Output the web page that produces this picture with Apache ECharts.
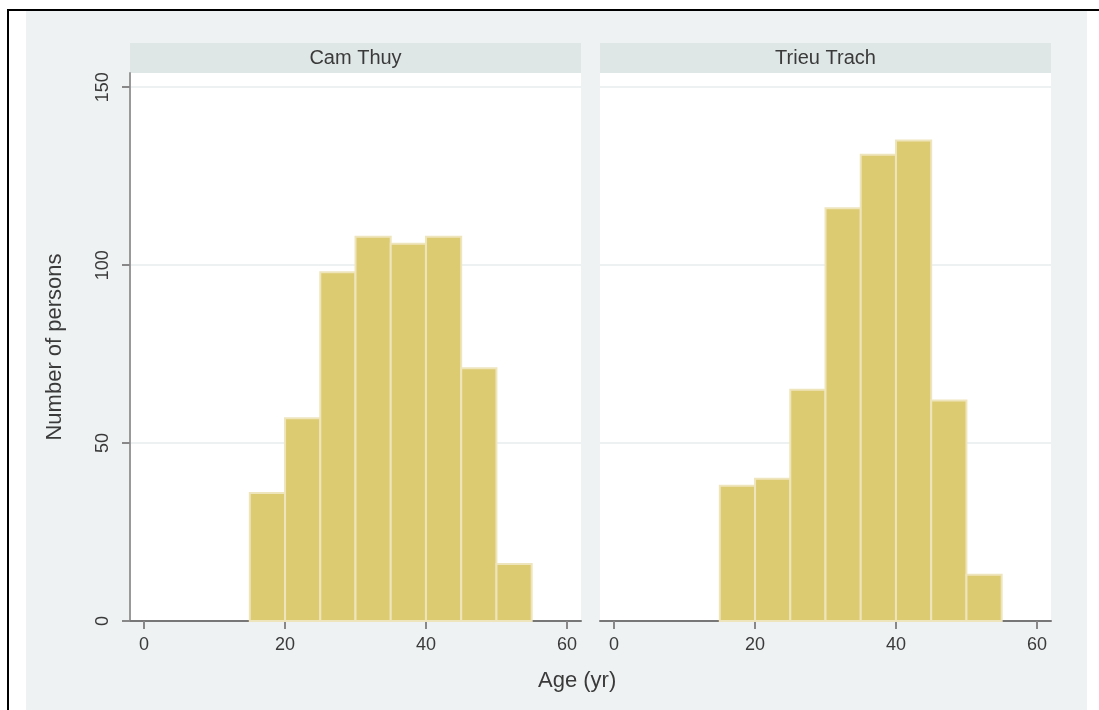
<!DOCTYPE html>
<html>
<head>
<meta charset="utf-8">
<script src="https://cdn.jsdelivr.net/npm/echarts@6/dist/echarts.min.js"></script>
<style>
  html, body { margin: 0; padding: 0; background: #fff; }
  #frame { position: absolute; left: 7px; top: 9px; width: 1092px; height: 701px;
           border-left: 2px solid #000; border-top: 2px solid #000; box-sizing: border-box; }
  #bg { position: absolute; left: 26px; top: 11px; width: 1061px; height: 699px; background: #eef2f3; }
  #main { position: absolute; left: 0; top: 0; width: 1099px; height: 710px; }
</style>
</head>
<body>
<div id="frame"></div>
<div id="bg"></div>
<div id="main"></div>
<script>
// histogram bins (age, years) and counts per commune
var binStarts = [15, 20, 25, 30, 35, 40, 45, 50];
var binWidth = 5;
var camThuy = [36, 57, 98, 108, 106, 108, 71, 16];
var trieuTrach = [38, 40, 65, 116, 131, 135, 62, 13];
var panelNames = ['Cam Thuy', 'Trieu Trach'];
var xTicks = [0, 20, 40, 60];
var yTicks = [0, 50, 100, 150];

var font = 'Liberation Sans, Arial, sans-serif';
var textColor = '#3a3a3a';

function histData(counts) {
  return binStarts.map(function (s, i) {
    return [s, s + binWidth, counts[i]];
  });
}

function renderBar(params, api) {
  var p0 = api.coord([api.value(0), 0]);
  var p1 = api.coord([api.value(1), api.value(2)]);
  return {
    type: 'rect',
    shape: { x: p0[0], y: p1[1], width: p1[0] - p0[0], height: p0[1] - p1[1] },
    style: { fill: '#dccb70', stroke: '#efe5bd', lineWidth: 2 }
  };
}

function xAxisFor(i) {
  return {
    type: 'value', gridIndex: i, min: -2, max: 62,
    axisLine: { show: true, onZero: false, lineStyle: { color: '#777', width: 2 } },
    axisTick: { show: true, length: 8, customValues: xTicks, lineStyle: { color: '#888', width: 2 } },
    axisLabel: { customValues: xTicks, margin: 15, fontSize: 18, color: textColor, fontFamily: font },
    splitLine: { show: false }
  };
}

function yAxisFor(i) {
  var left = i === 0;
  return {
    type: 'value', gridIndex: i, min: 0, max: 154,
    name: left ? 'Number of persons' : '',
    nameLocation: 'middle', nameGap: 64,
    nameTextStyle: { fontSize: 22, color: textColor, fontFamily: font },
    axisLine: { show: left, onZero: false, lineStyle: { color: '#999', width: 2 } },
    axisTick: { show: left, length: 8, customValues: yTicks, lineStyle: { color: '#888', width: 2 } },
    axisLabel: { show: left, customValues: yTicks, rotate: 90, margin: 18, fontSize: 18,
                 color: textColor, fontFamily: font },
    splitLine: { show: true, lineStyle: { color: '#eef1f1', width: 2 } }
  };
}

var chart = echarts.init(document.getElementById('main'), null, { renderer: 'canvas' });

var gridLefts = [130, 600];
var gridWidth = 451;

var option = {
  backgroundColor: 'transparent',
  animation: false,
  grid: gridLefts.map(function (l) {
    return { left: l, width: gridWidth, top: 73, height: 548, show: true,
             backgroundColor: '#fff', borderWidth: 0 };
  }),
  xAxis: [xAxisFor(0), xAxisFor(1)],
  yAxis: [yAxisFor(0), yAxisFor(1)],
  graphic: gridLefts.map(function (l, i) {
    return {
      type: 'group', left: l, top: 43,
      children: [
        { type: 'rect', shape: { x: 0, y: 0, width: gridWidth, height: 30 }, style: { fill: '#dfe6e6' } },
        { type: 'text', x: gridWidth / 2, y: 15,
          style: { text: panelNames[i], fontSize: 20, fill: textColor, fontFamily: font,
                   align: 'center', verticalAlign: 'middle' } }
      ]
    };
  }).concat([{
    type: 'text', left: 538, top: 670,
    style: { text: 'Age (yr)', fontSize: 22, fill: textColor, fontFamily: font }
  }]),
  series: [
    { type: 'custom', xAxisIndex: 0, yAxisIndex: 0, renderItem: renderBar,
      encode: { x: [0, 1], y: 2 }, data: histData(camThuy) },
    { type: 'custom', xAxisIndex: 1, yAxisIndex: 1, renderItem: renderBar,
      encode: { x: [0, 1], y: 2 }, data: histData(trieuTrach) }
  ]
};
chart.setOption(option);
</script>
</body>
</html>
